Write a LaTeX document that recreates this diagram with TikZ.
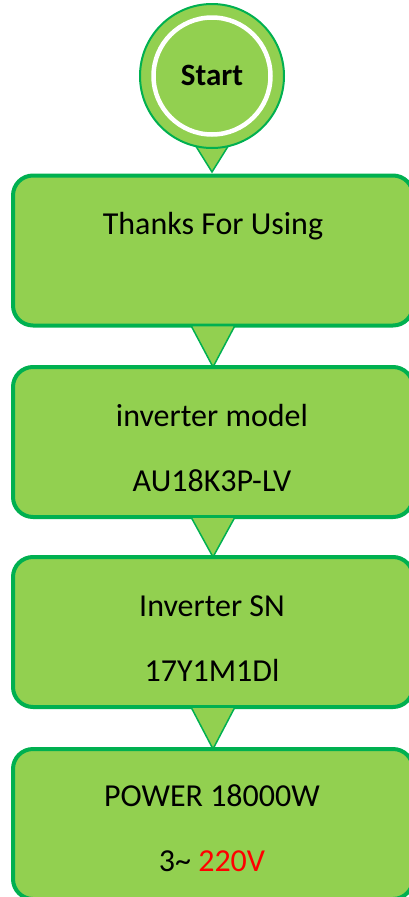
\documentclass[tikz,border=0pt]{standalone}
\usepackage{fontspec}
\setmainfont{Carlito}
\definecolor{fillg}{HTML}{92D050}
\definecolor{lineg}{HTML}{00B050}
\definecolor{redv}{HTML}{FF0000}
\begin{document}
\begin{tikzpicture}[x=1pt,y=-1pt,
  box/.style={draw=lineg,fill=fillg,line width=4pt,rounded corners=20pt,
    minimum width=400pt,minimum height=150pt,inner sep=0pt},
  txt/.style={font=\fontsize{32}{38}\selectfont,text=black,inner sep=0pt,anchor=base},
  tri/.style={draw=lineg,fill=fillg,line width=1.5pt,line join=miter},
]
\useasboundingbox (0,0) rectangle (408,897);
% boxes
\node[box] (b1) at (213,250.5) {};
\node[box] (b2) at (213,442) {};
\node[box] (b3) at (213,632) {};
\node[box] (b4) at (213,824) {};
% start circle
\coordinate (tipc) at (212,172);
\filldraw[tri] (192,140) -- (232,140) -- (tipc) -- cycle;
\node[circle,draw=lineg,fill=fillg,line width=2pt,minimum size=144pt,inner sep=0pt] (start) at (212,76) {};
\draw[white,line width=4.5pt] (start.center) circle (58.5);
\node[font=\fontsize{31}{36}\selectfont\bfseries,inner sep=0pt,anchor=base] (startt) at (212,85) {Start};
% triangles
\filldraw[tri] ([xshift=-22pt,yshift=2pt]b1.south) -- ([xshift=22pt,yshift=2pt]b1.south) -- ([yshift=-2pt]b2.north) -- cycle;
\filldraw[tri] ([xshift=-22pt,yshift=2pt]b2.south) -- ([xshift=22pt,yshift=2pt]b2.south) -- ([yshift=-2pt]b3.north) -- cycle;
\filldraw[tri] ([xshift=-22pt,yshift=2pt]b3.south) -- ([xshift=22pt,yshift=2pt]b3.south) -- ([yshift=-2pt]b4.north) -- cycle;
% texts
\node[txt] (t1) at (213,234) {Thanks For Using};
\node[txt] (t2a) at (212,426.5) {inverter model};
\node[txt] (t2b) at (212,491.5) {AU18K3P-LV};
\node[txt] (t3a) at (212,616.5) {Inverter SN};
\node[txt] (t3b) at (212,681.5) {17Y1M1Dl};
\node[txt] (t4a) at (212,806.5) {POWER 18000W};
\node[txt] (t4b) at (212,871.5) {3\char`~\ \textcolor{redv}{220V}};
\end{tikzpicture}
\end{document}
